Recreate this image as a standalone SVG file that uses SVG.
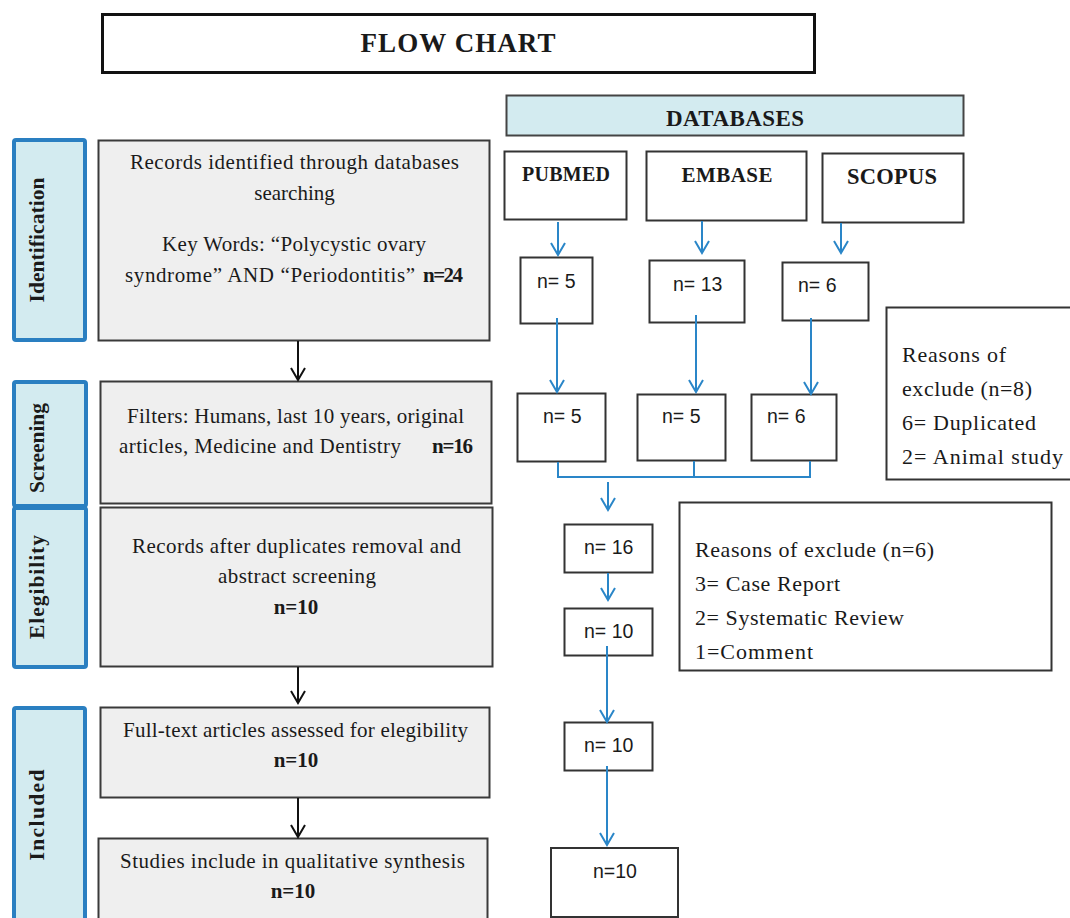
<svg xmlns="http://www.w3.org/2000/svg" width="1070" height="918" viewBox="0 0 1070 918">
<style>
.bg{fill:#ffffff}
.title{fill:#ffffff;stroke:#111;stroke-width:3}
.stage{fill:#d3ebf0;stroke:#2a7fc1;stroke-width:4}
.gray{fill:#efefef;stroke:#3a3a3a;stroke-width:2}
.wbox{fill:#ffffff;stroke:#333;stroke-width:2}
.db{fill:#d3ebf0;stroke:#444;stroke-width:2}
.serif{font-family:"Liberation Serif","Times New Roman",serif;fill:#1a1a1a}
.b{font-weight:bold}
.body{font-size:21px}
.sans{font-family:"Liberation Sans",Arial,sans-serif;font-size:19.5px;fill:#1a1a1a}
.blue{stroke:#2a86c8;stroke-width:2;fill:none}
.black{stroke:#111;stroke-width:2;fill:none}
</style>
<defs>
<marker id="ab" markerUnits="userSpaceOnUse" markerWidth="18" markerHeight="18" viewBox="0 0 18 18" refX="14" refY="9" orient="auto">
<path d="M2,2 L14,9 L2,16" fill="none" stroke="#2a86c8" stroke-width="2"/>
</marker>
<marker id="ak" markerUnits="userSpaceOnUse" markerWidth="18" markerHeight="18" viewBox="0 0 18 18" refX="14" refY="9" orient="auto">
<path d="M2,2 L14,9 L2,16" fill="none" stroke="#111" stroke-width="2"/>
</marker>
</defs>
<rect class="bg" x="0" y="0" width="1070" height="918"/>

<g id="title">
<rect class="title" x="102.5" y="14.5" width="712" height="58"/>
<text class="serif b" x="458" y="52" font-size="27" text-anchor="middle" textLength="195">FLOW CHART</text>
</g>

<g id="stage-identification">
<rect class="stage" x="14" y="140" width="71" height="200" rx="2"/>
<text class="serif b" font-size="21.5" text-anchor="middle" transform="translate(44,240) rotate(-90)" textLength="125">Identification</text>
</g>
<g id="stage-screening">
<rect class="stage" x="14" y="382" width="72" height="124" rx="2"/>
<text class="serif b" font-size="21.5" text-anchor="middle" transform="translate(44,448) rotate(-90)" textLength="90">Screening</text>
</g>
<g id="stage-elegibility">
<rect class="stage" x="14" y="508" width="72" height="159" rx="2"/>
<text class="serif b" font-size="21.5" text-anchor="middle" transform="translate(44,587) rotate(-90)" textLength="104">Elegibility</text>
</g>
<g id="stage-included">
<rect class="stage" x="14" y="708" width="71" height="220" rx="2"/>
<text class="serif b" font-size="21.5" text-anchor="middle" transform="translate(44,815) rotate(-90)" textLength="91">Included</text>
</g>

<g id="records">
<rect class="gray" x="98.5" y="140.5" width="391" height="200"/>
<text class="serif body" x="294.5" y="169" text-anchor="middle" textLength="329">Records identified through databases</text>
<text class="serif body" x="294.5" y="200" text-anchor="middle">searching</text>
<text class="serif body" x="294" y="251" text-anchor="middle" textLength="264">Key Words: “Polycystic ovary</text>
<text class="serif body" x="125" y="282" textLength="290">syndrome” AND “Periodontitis”</text>
<text class="serif body b" x="423" y="282" textLength="40">n=24</text>
</g>

<g id="screening">
<rect class="gray" x="100.5" y="381.5" width="391" height="122"/>
<text class="serif body" x="295.5" y="423" text-anchor="middle" textLength="337">Filters: Humans, last 10 years, original</text>
<text class="serif body" x="119" y="453" textLength="282">articles, Medicine and Dentistry</text>
<text class="serif body b" x="432" y="453" textLength="41">n=16</text>
</g>

<g id="elegibility">
<rect class="gray" x="100.5" y="507.5" width="392" height="159"/>
<text class="serif body" x="296.5" y="553" text-anchor="middle" textLength="329">Records after duplicates removal and</text>
<text class="serif body" x="297" y="583" text-anchor="middle" textLength="158">abstract screening</text>
<text class="serif body b" x="296" y="614" text-anchor="middle">n=10</text>
</g>

<g id="fulltext">
<rect class="gray" x="100.5" y="707.5" width="389" height="90"/>
<text class="serif body" x="295.5" y="737" text-anchor="middle" textLength="345">Full-text articles assessed for elegibility</text>
<text class="serif body b" x="296" y="767" text-anchor="middle">n=10</text>
</g>

<g id="studies">
<rect class="gray" x="98.5" y="838.5" width="389" height="90"/>
<text class="serif body" x="292.5" y="868" text-anchor="middle" textLength="345">Studies include in qualitative synthesis</text>
<text class="serif body b" x="293" y="898" text-anchor="middle">n=10</text>
</g>

<g id="databases">
<rect class="db" x="506.5" y="95.5" width="457" height="40"/>
<text class="serif b" x="735" y="126" font-size="23" text-anchor="middle" textLength="138">DATABASES</text>
</g>

<g id="pubmed">
<rect class="wbox" x="504.5" y="151.5" width="122" height="68"/>
<text class="serif b" x="566" y="181" font-size="20" text-anchor="middle" textLength="88">PUBMED</text>
</g>
<g id="embase">
<rect class="wbox" x="646.5" y="151.5" width="160" height="69"/>
<text class="serif b" x="727" y="182" font-size="21" text-anchor="middle" textLength="91">EMBASE</text>
</g>
<g id="scopus">
<rect class="wbox" x="822.5" y="153.5" width="141" height="69"/>
<text class="serif b" x="892" y="184" font-size="22.5" text-anchor="middle" textLength="90">SCOPUS</text>
</g>

<g id="pubmed-n1">
<rect class="wbox" x="520.5" y="257.5" width="72" height="66"/>
<text class="sans" x="537" y="288">n= 5</text>
</g>
<g id="embase-n1">
<rect class="wbox" x="649.5" y="260.5" width="95" height="62"/>
<text class="sans" x="673" y="291">n= 13</text>
</g>
<g id="scopus-n1">
<rect class="wbox" x="782.5" y="262.5" width="86" height="58"/>
<text class="sans" x="798" y="292">n= 6</text>
</g>

<g id="pubmed-n2">
<rect class="wbox" x="517.5" y="393.5" width="88" height="68"/>
<text class="sans" x="543" y="423">n= 5</text>
</g>
<g id="embase-n2">
<rect class="wbox" x="637.5" y="394.5" width="88" height="66"/>
<text class="sans" x="662" y="423">n= 5</text>
</g>
<g id="scopus-n2">
<rect class="wbox" x="751.5" y="394.5" width="85" height="66"/>
<text class="sans" x="767" y="423">n= 6</text>
</g>

<g id="exclude-8">
<rect class="wbox" x="886.5" y="307.5" width="200" height="172"/>
<text class="serif" font-size="22" x="902" y="362" textLength="104">Reasons of</text>
<text class="serif" font-size="22" x="902" y="396" textLength="130">exclude (n=8)</text>
<text class="serif" font-size="22" x="902" y="430" textLength="134">6= Duplicated</text>
<text class="serif" font-size="22" x="902" y="464" textLength="161">2= Animal study</text>
</g>

<g id="n16">
<rect class="wbox" x="564.5" y="524.5" width="88" height="48"/>
<text class="sans" x="584" y="554">n= 16</text>
</g>
<g id="exclude-6">
<rect class="wbox" x="679.5" y="502.5" width="372" height="168"/>
<text class="serif" font-size="22" x="695" y="557" textLength="239">Reasons of exclude (n=6)</text>
<text class="serif" font-size="22" x="695" y="591" textLength="145">3= Case Report</text>
<text class="serif" font-size="22" x="695" y="625" textLength="209">2= Systematic Review</text>
<text class="serif" font-size="22" x="695" y="659" textLength="118">1=Comment</text>
</g>
<g id="n10a">
<rect class="wbox" x="564.5" y="608.5" width="88" height="47"/>
<text class="sans" x="584" y="638">n= 10</text>
</g>
<g id="n10b">
<rect class="wbox" x="564.5" y="722.5" width="88" height="48"/>
<text class="sans" x="584" y="752">n= 10</text>
</g>
<g id="n10c">
<rect class="wbox" x="551" y="848" width="127" height="69"/>
<text class="sans" x="593" y="878">n=10</text>
</g>

<g id="connectors">
<line class="black" x1="298" y1="341" x2="298" y2="380" marker-end="url(#ak)"/>
<line class="black" x1="298" y1="667" x2="298" y2="703" marker-end="url(#ak)"/>
<line class="black" x1="298" y1="798" x2="298" y2="837" marker-end="url(#ak)"/>
<line class="blue" x1="558" y1="222" x2="558" y2="255" marker-end="url(#ab)"/>
<line class="blue" x1="702" y1="221" x2="702" y2="253" marker-end="url(#ab)"/>
<line class="blue" x1="841" y1="223" x2="841" y2="253" marker-end="url(#ab)"/>
<line class="blue" x1="557" y1="318" x2="557" y2="392" marker-end="url(#ab)"/>
<line class="blue" x1="696" y1="315" x2="696" y2="392" marker-end="url(#ab)"/>
<line class="blue" x1="811" y1="318" x2="811" y2="394" marker-end="url(#ab)"/>
<polyline class="blue" points="558,462 558,477 810,477 810,461"/>
<line class="blue" x1="694" y1="461" x2="694" y2="476"/>
<line class="blue" x1="608" y1="482" x2="608" y2="510" marker-end="url(#ab)"/>
<line class="blue" x1="608" y1="573" x2="608" y2="600" marker-end="url(#ab)"/>
<line class="blue" x1="607" y1="646" x2="607" y2="722" marker-end="url(#ab)"/>
<line class="blue" x1="607" y1="766" x2="607" y2="845" marker-end="url(#ab)"/>
</g>
</svg>
